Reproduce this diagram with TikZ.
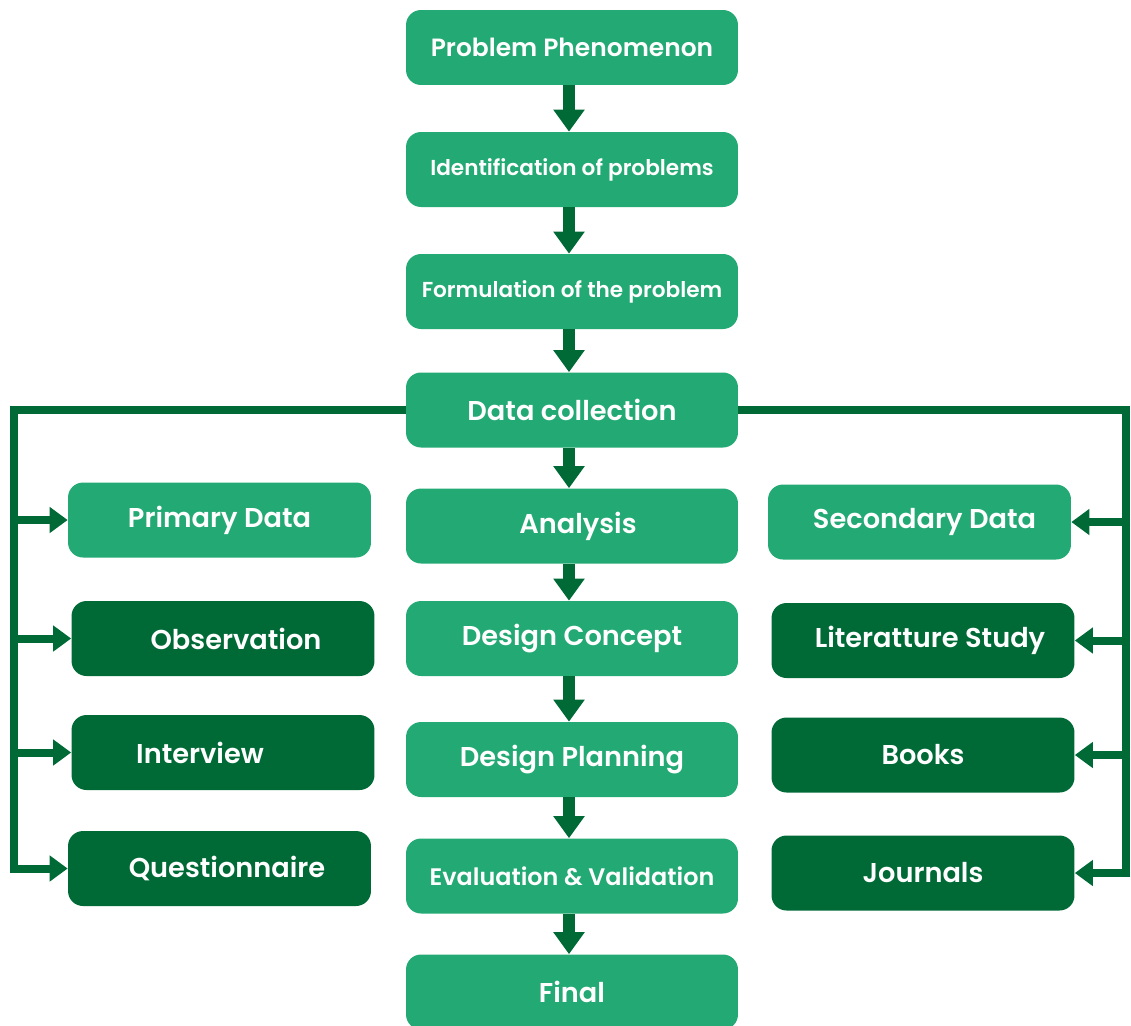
\documentclass[tikz,border=0pt]{standalone}
\usepackage{fontspec}
\setmainfont{Poppins}[BoldFont = {Poppins SemiBold}]
\usetikzlibrary{arrows.meta}
\usetikzlibrary{positioning}

\definecolor{lightgreen}{HTML}{23A973}
\definecolor{darkgreen}{HTML}{006A37}

\begin{document}
\begin{tikzpicture}
[
	x								= 0.02cm,
	y								= -0.02cm,
	%
	% boxes
	box/.style						=
	{
		rounded corners				= 0.3cm,
		minimum width				= 6.64cm,
		minimum height				= 1.5cm,
		text						= white,
		font						= \bfseries\fontsize{15.5}{17}\selectfont,
		inner sep					= 0pt
	},
	step box/.style					= {box, fill = lightgreen},
	small box/.style				= {step box, font = \bfseries\fontsize{12.3}{14}\selectfont},
	head box/.style					= {box, fill = lightgreen, minimum width = 6.06cm},
	item box/.style					= {box, fill = darkgreen, minimum width = 6.06cm},
	%
	% connectors
	flow/.style						=
	{
		darkgreen,
		line width					= 0.25cm,
		-{Triangle[width = 0.6cm, length = 0.44cm]}
	},
	bus/.style						=
	{
		darkgreen,
		line width					= 0.16cm
	},
	branch/.style					=
	{
		bus,
		-{Triangle[width = 0.5cm, length = 0.36cm]}
	},
]
	\useasboundingbox (0,0) rectangle (1131,1025);

	% middle column
	\node (phen)	[step box, font = \bfseries\fontsize{14.2}{16}\selectfont]	at (572,47.5)	{Problem Phenomenon};
	\node (ident)	[small box]	at (572,169.5)	{Identification of problems};
	\node (form)	[small box]	at (572,291.5)	{Formulation of the problem};
	\node (dc)		[step box]	at (572,410)	{Data collection};
	\node (anal)	[step box]	at (572,526)	{\hspace*{0.24cm}Analysis};
	\node (conc)	[step box]	at (572,638.5)	{Design Concept};
	\node (plan)	[step box]	at (572,759.5)	{Design Planning};
	\node (eval)	[small box, font = \bfseries\fontsize{13.6}{15}\selectfont]	at (572,876)	{Evaluation \& Validation};
	\node (final)	[step box]	at (572,992)	{Final};

	% left column
	\node (prim)	[head box]	at (219.5,520)	{Primary Data};
	\node (obs)		[item box]	at (223,638.5)	{\hspace*{0.52cm}Observation};
	\node (inter)	[item box]	at (223,752.5)	{Interview\hspace*{0.92cm}};
	\node (quest)	[item box]	at (219.5,868.5){\hspace*{0.3cm}Questionnaire};

	% right column
	\node (sec)		[head box]	at (919.5,522)	{\hspace*{0.2cm}Secondary Data};
	\node (lit)		[item box]	at (923,640.5)	{\hspace*{0.28cm}Literatture Study};
	\node (books)	[item box]	at (923,755)	{Books};
	\node (jour)	[item box]	at (923,873)	{Journals};

	\foreach \a/\b in {phen/ident, ident/form, form/dc, dc/anal, anal/conc, conc/plan, plan/eval, eval/final}
		\draw [flow] ([xshift = -0.06cm]\a.south) -- ([xshift = -0.06cm]\b.north);

	\coordinate (lbus) at (14,0);
	\coordinate (rbus) at (1126,0);

	\draw [bus, line join = miter] (dc.west) -- (dc.west -| lbus) -- (quest.west -| lbus);
	\draw [bus, line join = miter] (dc.east) -- (dc.east -| rbus) -- (jour.east -| rbus);

	\foreach \n in {prim, obs, inter, quest}
		\draw [branch] ([xshift = -0.08cm]\n.west -| lbus) -- (\n.west);
	\foreach \n in {sec, lit, books, jour}
		\draw [branch] ([xshift = 0.08cm]\n.east -| rbus) -- (\n.east);

\end{tikzpicture}
\end{document}
